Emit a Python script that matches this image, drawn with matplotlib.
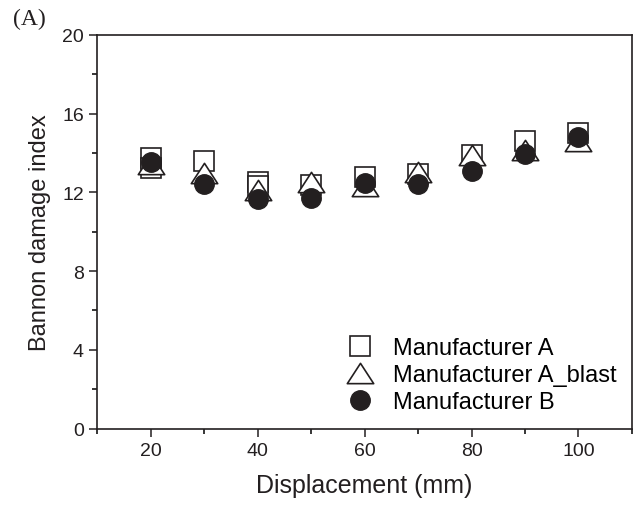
import matplotlib.pyplot as plt
from matplotlib.path import Path
from matplotlib.ticker import MultipleLocator

# displacement levels (mm)
disp_a = [20, 20, 30, 40, 40, 50, 60, 70, 80, 90, 100]
index_a = [13.75, 13.25, 13.57, 12.55, 12.35, 12.39, 12.78, 12.95, 13.88, 14.59, 15.02]

disp_blast = [20, 30, 40, 50, 60, 70, 80, 90, 100]
index_blast = [13.45, 13.01, 12.14, 12.54, 12.35, 13.06, 13.88, 14.13, 14.62]

disp_b = [20, 30, 40, 50, 60, 70, 80, 90, 100]
index_b = [13.54, 12.45, 11.65, 11.73, 12.49, 12.44, 13.11, 13.96, 14.81]

plt.rcParams['font.family'] = ['Liberation Sans', 'DejaVu Sans']

fig = plt.figure(figsize=(6.39, 5.06), dpi=100)
ax = fig.add_axes([0.152, 0.151, 0.837, 0.778])

# wide open triangle like the Origin symbol
tri = Path([(0, 1), (-1.3, -1), (1.3, -1), (0, 1)],
           [Path.MOVETO, Path.LINETO, Path.LINETO, Path.CLOSEPOLY])

ax.plot(disp_a, index_a, ls='none', marker='s', ms=14, mfc='white',
        mec='#231f20', mew=1.2, label='Manufacturer A')
ax.plot(disp_blast, index_blast, ls='none', marker=tri, ms=19, mfc='white',
        mec='#231f20', mew=1.2, label='Manufacturer A_blast')
ax.plot(disp_b, index_b, ls='none', marker='o', ms=14, mfc='#231f20',
        mec='#231f20', mew=1.0, label='Manufacturer B')

ax.set_xlim(10, 110)
ax.set_ylim(0, 20)
ax.xaxis.set_major_locator(MultipleLocator(20))
ax.xaxis.set_minor_locator(MultipleLocator(10))
ax.yaxis.set_major_locator(MultipleLocator(4))
ax.yaxis.set_minor_locator(MultipleLocator(2))
ax.tick_params(which='major', direction='out', length=6, width=1.1,
               labelsize=14, colors='#231f20')
ax.tick_params(which='minor', direction='out', length=3.5, width=1.1)
for s in ax.spines.values():
    s.set_linewidth(1.2)
    s.set_color('#231f20')

ax.set_xlabel('Displacement (mm)', fontsize=18, labelpad=10, color='#231f20')
ax.set_ylabel('Bannon damage index', fontsize=17, labelpad=8, color='#231f20')

ax.legend(loc='lower right', bbox_to_anchor=(1.0, 0.0), frameon=False,
          fontsize=17, handlelength=1.0, handletextpad=0.9,
          labelspacing=0.22, borderaxespad=0.25)

fig.text(0.02, 0.95, '(A)', fontsize=17, family=['Liberation Serif'],
         color='#231f20')

fig.savefig('out.png', dpi=100)
